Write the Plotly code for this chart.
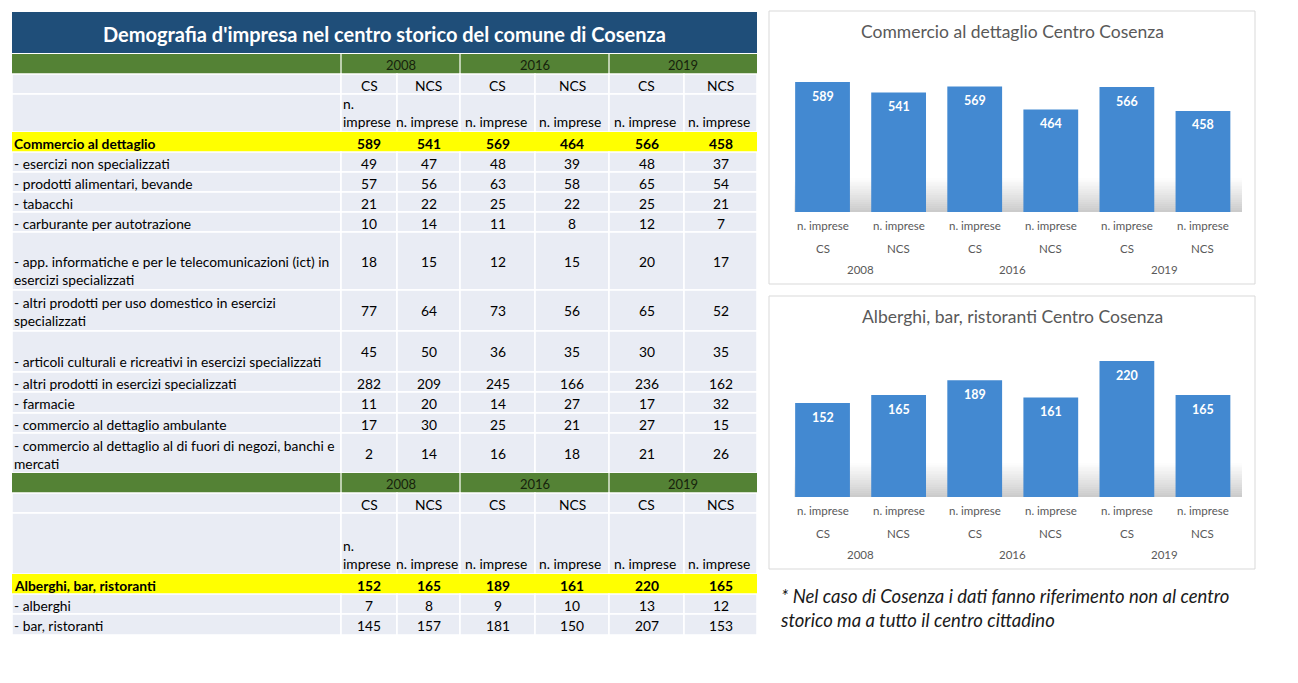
import plotly.graph_objects as go

W, H = 1298, 683

# ---------------- data ----------------
TABLE_TITLE = "Demografia d'impresa nel centro storico del comune di Cosenza"
YEARS = ["2008", "2016", "2019"]
ZONES = ["CS", "NCS"]
MEASURE = "n. imprese"

RETAIL_TITLE = "Commercio al dettaglio"
RETAIL_TOTAL = [589, 541, 569, 464, 566, 458]
RETAIL_ROWS = [
    "- esercizi non specializzati",
    "- prodotti alimentari, bevande",
    "- tabacchi",
    "- carburante per autotrazione",
    "- app. informatiche e per le telecomunicazioni (ict) in<br>esercizi specializzati",
    "- altri prodotti per uso domestico in esercizi<br>specializzati",
    "- articoli culturali e ricreativi in esercizi specializzati",
    "- altri prodotti in esercizi specializzati",
    "- farmacie",
    "- commercio al dettaglio ambulante",
    "- commercio al dettaglio al di fuori di negozi, banchi e<br>mercati",
]
RETAIL_VALUES = [
    [49, 47, 48, 39, 48, 37],
    [57, 56, 63, 58, 65, 54],
    [21, 22, 25, 22, 25, 21],
    [10, 14, 11, 8, 12, 7],
    [18, 15, 12, 15, 20, 17],
    [77, 64, 73, 56, 65, 52],
    [45, 50, 36, 35, 30, 35],
    [282, 209, 245, 166, 236, 162],
    [11, 20, 14, 27, 17, 32],
    [17, 30, 25, 21, 27, 15],
    [2, 14, 16, 18, 21, 26],
]

HOTEL_TITLE = "Alberghi, bar, ristoranti"
HOTEL_TOTAL = [152, 165, 189, 161, 220, 165]
HOTEL_ROWS = ["- alberghi", "- bar, ristoranti"]
HOTEL_VALUES = [
    [7, 8, 9, 10, 13, 12],
    [145, 157, 181, 150, 207, 153],
]

CHART1_TITLE = "Commercio al dettaglio Centro Cosenza"
CHART2_TITLE = "Alberghi, bar, ristoranti Centro Cosenza"
NOTE = ("* Nel caso di Cosenza i dati fanno riferimento non al centro<br>"
        "storico ma a tutto il centro cittadino")

# ---------------- style / layout constants ----------------
FONT = "Lato, 'Open Sans', sans-serif"
NAVY = "#1f4e79"
GREEN = "#548235"
CELL = "#e9ecf4"
YELLOW = "#ffff00"
BAR = "#4389d1"
GREY_TXT = "#595959"
TS = 13.8  # table font size

COL_X = [12, 341, 397, 460, 535, 609, 684, 757]
TITLE_Y = (12, 53)

SEC1_TOP = 54
SEC1_HEAD_H = [20, 20, 38]          # years, zones, measure
SEC1_ROW_H = [20] + [20, 20, 20, 20, 58, 41, 41, 20, 21, 20, 40]
SEC1_VALIGN = ["m"] + ["m", "m", "m", "m", "b", "m", "b", "m", "m", "m", "m"]

SEC2_HEAD_H = [20, 20, 61]
SEC2_ROW_H = [20, 20, 21]
SEC2_VALIGN = ["m", "m", "m"]

shapes = []
annotations = []


def rect(x0, y0, x1, y1, fill, line="white", lw=1.5, layer="below"):
    shapes.append(dict(type="rect", xref="x", yref="y", x0=x0, x1=x1, y0=y0, y1=y1,
                       fillcolor=fill, line=dict(color=line, width=lw), layer=layer))


def text(x, y, s, size=TS, color="black", bold=False, xanchor="center",
         yanchor="middle", align="center", xref="x", yref="y", italic=False, weight=None):
    f = dict(family=FONT, size=size, color=color)
    if bold:
        f["weight"] = "bold"
    if weight:
        f["weight"] = weight
    if italic:
        f["style"] = "italic"
    annotations.append(dict(x=x, y=y, xref=xref, yref=yref, text=s, showarrow=False,
                            font=f, xanchor=xanchor, yanchor=yanchor, align=align,
                            borderpad=0))


def col_center(i):
    return (COL_X[i + 1] + COL_X[i + 2]) / 2


def draw_section(top, head_h, row_h, valign, total_label, total_vals, labels, values):
    y = top
    h = head_h[0]
    rect(COL_X[0], y, COL_X[-1], y + h, GREEN, line=GREEN, lw=0)
    for k, yr in enumerate(YEARS):
        x0, x1 = COL_X[1 + 2 * k], COL_X[3 + 2 * k]
        shapes.append(dict(type="line", xref="x", yref="y", x0=x0, x1=x0, y0=y, y1=y + h,
                           line=dict(color="#dfe8d6", width=1.5), layer="below"))
        text((x0 + x1) / 2, y + h / 2 + 1, yr, size=13, color="#16220c")
    y += h
    h = head_h[1]
    for c in range(len(COL_X) - 1):
        rect(COL_X[c], y, COL_X[c + 1], y + h, CELL)
    for i in range(6):
        text(col_center(i), y + h / 2 + 1, ZONES[i % 2])
    y += h
    h = head_h[2]
    for c in range(len(COL_X) - 1):
        rect(COL_X[c], y, COL_X[c + 1], y + h, CELL)
    text(COL_X[1] + 1, y + h - 1, MEASURE.replace(" ", "<br>"),
         xanchor="left", yanchor="bottom", align="left")
    for i in range(1, 6):
        text(col_center(i) - 2, y + h - 1, MEASURE, yanchor="bottom")
    y += h
    all_labels = [total_label] + labels
    all_vals = [total_vals] + values
    for r, (lab, vals) in enumerate(zip(all_labels, all_vals)):
        h = row_h[r]
        fill = YELLOW if r == 0 else CELL
        for c in range(len(COL_X) - 1):
            rect(COL_X[c], y, COL_X[c + 1], y + h, fill, line="white" if r else YELLOW,
                 lw=1.5 if r else 0)
        bold = r == 0
        if valign[r] == "b":
            text(COL_X[0] + 1, y + h - 1, lab, bold=bold, xanchor="left",
                 yanchor="bottom", align="left")
        else:
            text(COL_X[0] + 1, y + h / 2 + 1, lab, bold=bold, xanchor="left",
                 align="left")
        for i, v in enumerate(vals):
            text(col_center(i), y + h / 2 if h > 22 else y + h / 2 + 1, str(v), bold=bold)
        y += h
    return y


rect(COL_X[0], TITLE_Y[0], COL_X[-1], TITLE_Y[1], NAVY, line=NAVY, lw=0)
text((COL_X[0] + COL_X[-1]) / 2, (TITLE_Y[0] + TITLE_Y[1]) / 2 + 1, TABLE_TITLE,
     size=20, color="white", bold=True)

end1 = draw_section(SEC1_TOP, SEC1_HEAD_H, SEC1_ROW_H, SEC1_VALIGN,
                    RETAIL_TITLE, RETAIL_TOTAL, RETAIL_ROWS, RETAIL_VALUES)
draw_section(end1, SEC2_HEAD_H, SEC2_ROW_H, SEC2_VALIGN,
             HOTEL_TITLE, HOTEL_TOTAL, HOTEL_ROWS, HOTEL_VALUES)

# ---------------- charts ----------------
BOX_X = (769, 1255)
PLOT_X = (784.5, 1241)
CHARTS = [
    dict(title=CHART1_TITLE, vals=RETAIL_TOTAL, box=(11, 284), plot=(57.5, 212),
         ymax=700, ax="2"),
    dict(title=CHART2_TITLE, vals=HOTEL_TOTAL, box=(296, 569), plot=(342.5, 497),
         ymax=250, ax="3"),
]

fig = go.Figure()
fig.add_trace(go.Scatter(x=[], y=[], xaxis="x", yaxis="y", showlegend=False,
                         hoverinfo="skip"))

cat_labels = [(YEARS[i // 2], ZONES[i % 2]) for i in range(6)]
layout_axes = {}
for ch in CHARTS:
    b0, b1 = ch["box"]
    p0, p1 = ch["plot"]
    rect(BOX_X[0], b0, BOX_X[1], b1, "white", line="#d9d9d9", lw=1)
    n = 16
    sh_h = 34
    for k in range(n):
        ya = p1 - sh_h + sh_h * k / n
        yb = p1 - sh_h + sh_h * (k + 1) / n
        t = (k + 1) / n
        a = 0.36 * t ** 1.1
        shapes.append(dict(type="rect", xref="x", yref="y", x0=PLOT_X[0] + 10,
                           x1=PLOT_X[1] + 1, y0=ya, y1=yb,
                           fillcolor=f"rgba(110,110,110,{a:.3f})", line=dict(width=0),
                           layer="below"))
    text((BOX_X[0] + BOX_X[1]) / 2, b0 + 20, ch["title"], size=17.5, color=GREY_TXT)

    ax = ch["ax"]
    xs = list(range(6))
    fig.add_trace(go.Bar(x=xs, y=ch["vals"], xaxis="x" + ax, yaxis="y" + ax,
                         marker=dict(color=BAR, line=dict(width=0)), showlegend=False,
                         hoverinfo="skip"))
    layout_axes["xaxis" + ax] = dict(domain=[PLOT_X[0] / W, PLOT_X[1] / W],
                                    range=[-0.5, 5.5], anchor="y" + ax, visible=False,
                                    fixedrange=True)
    layout_axes["yaxis" + ax] = dict(domain=[(H - p1) / H, (H - p0) / H],
                                    range=[0, ch["ymax"]], anchor="x" + ax, visible=False,
                                    fixedrange=True)
    for i, v in enumerate(ch["vals"]):
        annotations.append(dict(x=i, y=v, xref="x" + ax, yref="y" + ax, text=str(v),
                                showarrow=False, yshift=-14, yanchor="middle",
                                font=dict(family=FONT, size=12.5, color="white",
                                          weight="bold")))
        text(i, p1 + 13, MEASURE, size=11.5, color=GREY_TXT, xref="x" + ax)
        text(i, p1 + 36, cat_labels[i][1], size=11.5, color=GREY_TXT, xref="x" + ax)
    for k, yr in enumerate(YEARS):
        text(2 * k + 0.5, p1 + 57, yr, size=11.5, color=GREY_TXT, xref="x" + ax)

text(779, 584, NOTE, size=18.5, color="#1a1a1a", italic=True, xanchor="left",
     yanchor="top", align="left")

fig.update_layout(
    width=W, height=H, autosize=False,
    margin=dict(l=0, r=0, t=0, b=0, pad=0),
    paper_bgcolor="white", plot_bgcolor="rgba(0,0,0,0)",
    bargap=0.28, showlegend=False,
    xaxis=dict(domain=[0, 1], range=[0, W], visible=False, fixedrange=True),
    yaxis=dict(domain=[0, 1], range=[H, 0], visible=False, fixedrange=True),
    shapes=shapes, annotations=annotations,
    **layout_axes,
)

fig.write_html("out.html", config={"displayModeBar": False, "staticPlot": True},
               post_script="document.body.style.margin='0';document.body.style.overflow='hidden';")
